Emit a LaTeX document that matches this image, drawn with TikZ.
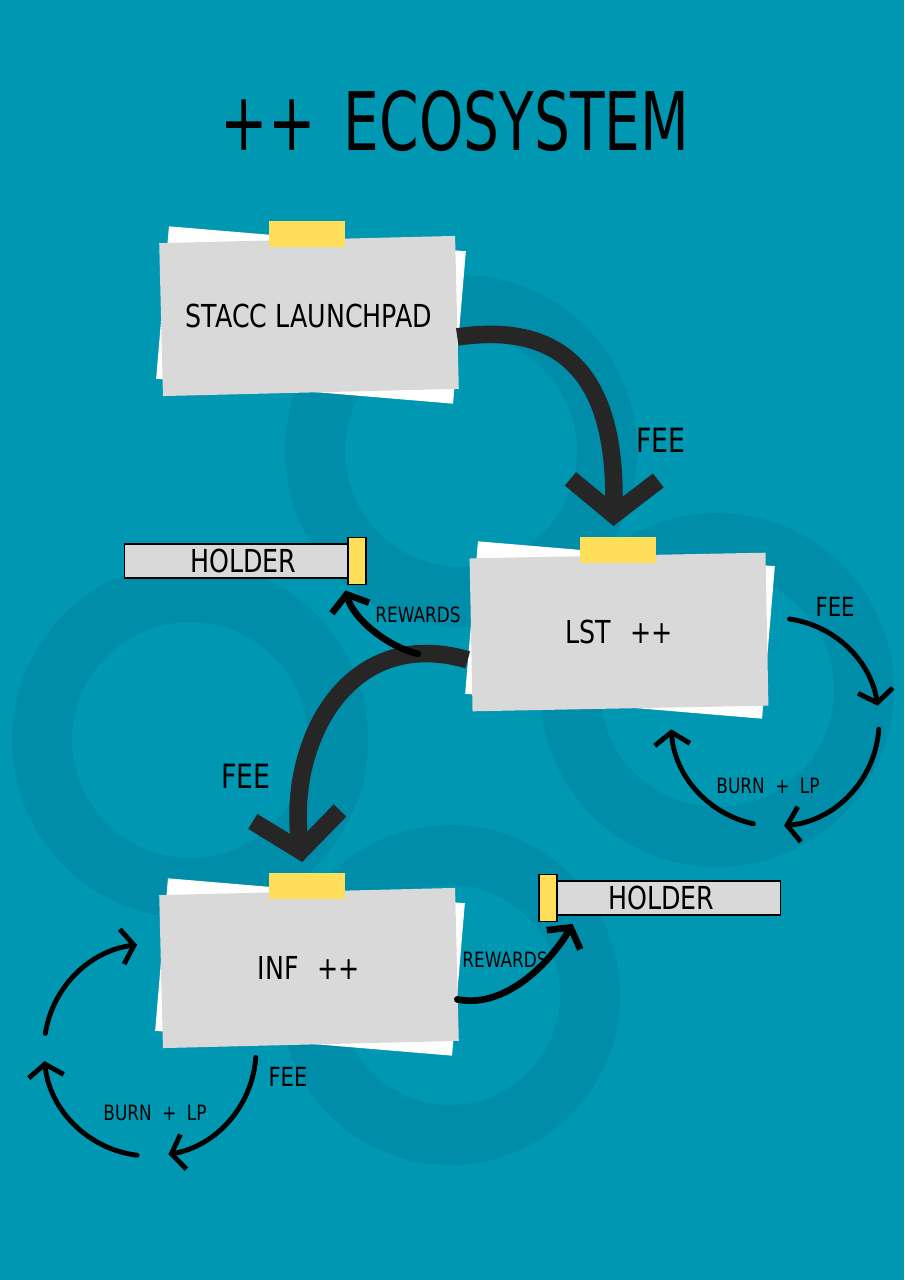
\documentclass[tikz,border=0pt]{standalone}
\usepackage{fontspec}
\setmainfont{DejaVu Sans}[FakeStretch=0.8]
\newfontfamily\titlefont{DejaVu Sans}[FakeStretch=0.7]
\usetikzlibrary{arrows.meta, positioning, calc}

\definecolor{bgteal}{HTML}{0097B3}
\definecolor{markteal}{HTML}{008DA9}
\definecolor{cardgray}{HTML}{D9D9D9}
\definecolor{tapeyellow}{HTML}{FFDE59}
\definecolor{inkdark}{HTML}{262626}

\begin{document}
\begin{tikzpicture}[
    x=0.02cm, y=-0.02cm,
    every node/.style={align=center, text=black},
    bigflow/.style={-{Straight Barb[length=20pt, width=50pt]}, line width=10pt, draw=inkdark},
    rewardflow/.style={-{Straight Barb[length=8pt, width=22pt]}, line width=3.8pt, line cap=round},
    loopflow/.style={-{Straight Barb[length=7pt, width=20pt]}, line width=2.8pt, line cap=round},
]

% --- Style definitions ---
\tikzset{
    backsheet/.style = {fill=white, minimum width=5.96cm, minimum height=3.06cm, inner sep=0pt},
    card/.style = {fill=cardgray, minimum width=5.92cm, minimum height=3.06cm, inner sep=0pt,
        font=\fontsize{18}{20}\selectfont},
    tape/.style = {fill=tapeyellow, minimum width=1.52cm, minimum height=0.52cm, inner sep=0pt},
    holder/.style = {draw=black, line width=1.1pt, fill=cardgray, minimum width=4.46cm,
        minimum height=0.68cm, inner sep=0pt, font=\fontsize{18}{20}\selectfont},
    holdertab/.style = {draw=black, line width=1.1pt, fill=tapeyellow, minimum width=0.36cm,
        minimum height=0.94cm, inner sep=0pt},
    biglbl/.style = {font=\fontsize{19}{21}\selectfont},
    looplbl/.style = {font=\fontsize{15}{17}\selectfont},
    lbl/.style = {font=\fontsize{12}{14}\selectfont},
    knotring/.style = {draw=markteal, line width=1.2cm},
}

% --- Background and faint knot mark ---
\fill [bgteal] (0,0) rectangle (904,1280);
\draw [knotring] (461,451) circle [radius=146];
\draw [knotring] (717,690) circle [radius=147];
\draw [knotring] (450,995) circle [radius=140];
\draw [knotring] (190,740) circle [radius=148];

% --- Title ---
\node (title) [font=\titlefont\fontsize{46}{50}\selectfont] at (455,121) {++\hspace{0.35em}ECOSYSTEM};

% --- Cards ---
\node (stacc-back) [backsheet, rotate=-4.8] at (311,315) {};
\node (stacc) [card, rotate=1.4] at (309,316) {\rotatebox{-1.4}{STACC LAUNCHPAD}};
\node (stacc-tape) [tape, above=-0.17cm of stacc] {};

\node (lst-back) [backsheet, rotate=-4.8] at (620,630) {};
\node (lst) [card, rotate=1.1] at (619,632) {\rotatebox{-1.1}{LST\hspace{0.6em}++}};
\node (lst-tape) [tape, above=-0.17cm of lst] {};

\node (inf-back) [backsheet, rotate=-4.8] at (310,967) {};
\node (inf) [card, rotate=1.4] at (309,968) {\rotatebox{-1.4}{INF\hspace{0.6em}++}};
\node (inf-tape) [tape, above=-0.17cm of inf] {};

% --- Holders ---
\node (holder-a) [holder] at (236,561) {\hspace{0.3cm}HOLDER};
\node (tab-a) [holdertab, right=-0.02cm of holder-a] {};
\node (holder-b) [holder] at (669,898) {HOLDER\hspace{0.3cm}};
\node (tab-b) [holdertab, left=-0.02cm of holder-b] {};

% --- Fee flows ---
\draw [bigflow] (stacc.east |- 0,337) .. controls +(135,-20) and +(2,-110) .. ($(lst-tape.north)+(-4,-11)$);
\node (fee-a) [biglbl] at (661,440) {FEE};

\draw [bigflow] ($(lst.west)+(-3,25)$) .. controls +(-120,-35) and +(-15,-120) .. ($(inf-tape.north)+(-5,-11)$)
    coordinate [pos=0.15] (split);
\node (fee-b) [biglbl] at (246,776) {FEE};

% --- Rewards ---
\draw [rewardflow] (split) .. controls +(-32,-8) and +(8,28) .. ($(tab-a.south west)+(-2,5)$);
\node (rew-a) [lbl] at (418,615) {REWARDS};

\draw [rewardflow] ($(inf.east)+(0,35)$) .. controls +(50,10) and +(-20,35) .. ($(holder-b.south west)+(16,8)$);
\node (rew-b) [lbl] at (505,960) {REWARDS};

% --- LST loop ---
\coordinate (lst-loop) at (775,722);
\draw [loopflow] ($(lst-loop)+(-82:104)$) arc [start angle=-82, end angle=-9, radius=104];
\draw [loopflow] ($(lst-loop)+(4:104)$) arc [start angle=4, end angle=85, radius=104];
\draw [loopflow] ($(lst-loop)+(102:104)$) arc [start angle=102, end angle=176, radius=104];
\node (lst-fee) [looplbl] at (835,607) {FEE};
\node (lst-burn) [lbl] at (768,786) {BURN\hspace{0.5em}+\hspace{0.5em}LP};

% --- INF loop ---
\coordinate (inf-loop) at (150,1050);
\draw [loopflow] ($(inf-loop)+(4:106)$) arc [start angle=4, end angle=80, radius=106];
\draw [loopflow] ($(inf-loop)+(97:106)$) arc [start angle=97, end angle=174, radius=106];
\draw [loopflow] ($(inf-loop)+(189:106)$) arc [start angle=189, end angle=263, radius=106];
\node (inf-fee) [looplbl] at (288,1077) {FEE};
\node (inf-burn) [lbl] at (155,1113) {BURN\hspace{0.5em}+\hspace{0.5em}LP};

\end{tikzpicture}
\end{document}
